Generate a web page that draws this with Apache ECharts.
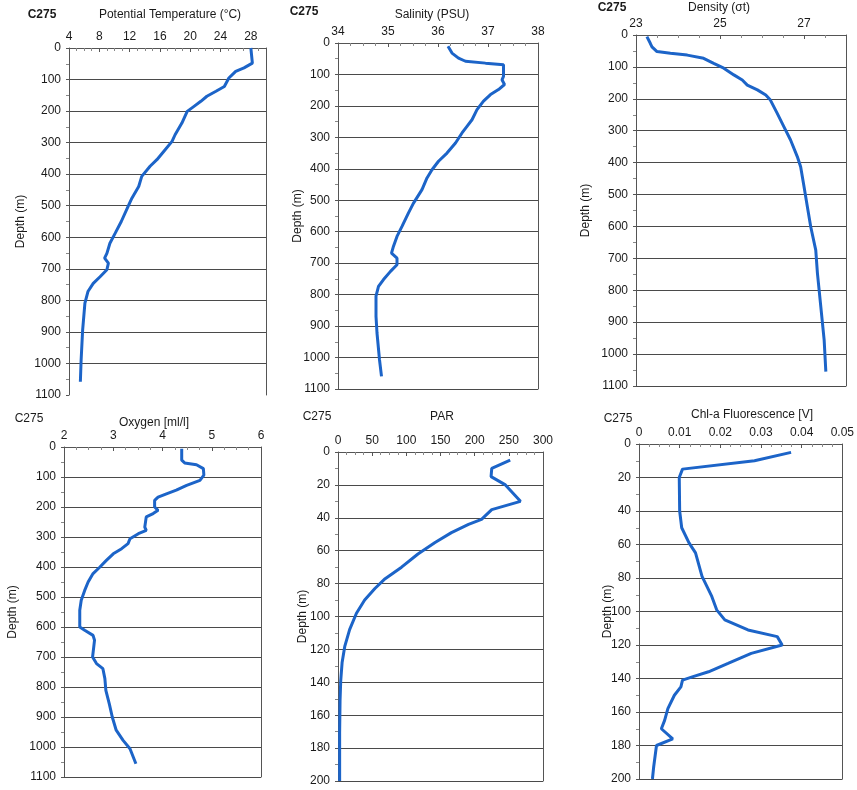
<!DOCTYPE html>
<html><head><meta charset="utf-8">
<script src="https://cdn.jsdelivr.net/npm/echarts@6/dist/echarts.min.js"></script>
<style>html,body{margin:0;padding:0;background:#fff}#c{width:857px;height:790px}</style>
</head><body><div id="c"></div>
<script>
// ---- data (x value, depth in m) ----
const tempDepth = [0,48,53,63,74,95,122,137,153,169,185,201,238,275,296,328,354,375,407,439,476,502,550,587,619,651,666,682,703,725,746,772,809,894,989,1058];
const tempVal   = [28.0,28.2,28.3,27.1,26.0,25.1,24.5,23.4,22.2,21.4,20.5,19.6,18.9,18.0,17.6,16.5,15.6,14.7,13.6,13.2,12.3,11.8,10.9,10.1,9.4,9.0,8.7,9.2,9.0,8.1,7.2,6.5,6.1,5.8,5.6,5.5];

const salDepth = [10,32,37,48,58,64,69,106,117,132,148,164,185,212,244,265,286,318,350,376,403,429,466,509,540,583,615,646,668,684,705,726,752,774,805,869,922,1007,1060];
const salVal   = [36.20,36.28,36.31,36.41,36.55,36.95,37.31,37.31,37.28,37.33,37.21,37.05,36.91,36.78,36.68,36.58,36.48,36.35,36.18,36.01,35.88,35.78,35.68,35.51,35.41,35.28,35.18,35.11,35.07,35.18,35.18,35.05,34.91,34.81,34.76,34.76,34.78,34.83,34.87];

const densDepth = [5,26,37,52,57,63,73,89,104,125,141,157,172,188,204,245,287,329,381,413,475,538,601,674,747,851,956,1055];
const densVal   = [23.26,23.34,23.38,23.50,23.82,24.22,24.61,24.85,25.09,25.33,25.53,25.65,25.89,26.09,26.20,26.36,26.52,26.68,26.84,26.92,27.00,27.08,27.16,27.28,27.32,27.40,27.48,27.52];

const oxyDepth = [6,44,53,59,72,94,111,128,144,156,167,178,200,211,222,233,267,278,289,306,322,339,356,378,400,422,450,478,511,544,600,611,628,644,672,700,722,739,772,811,856,900,944,978,1006,1056];
const oxyVal   = [4.39,4.39,4.45,4.69,4.83,4.84,4.76,4.49,4.28,4.08,3.91,3.84,3.84,3.91,3.81,3.67,3.64,3.67,3.51,3.34,3.30,3.17,3.00,2.86,2.73,2.59,2.49,2.42,2.35,2.32,2.32,2.42,2.59,2.62,2.60,2.58,2.66,2.79,2.83,2.85,2.92,2.98,3.06,3.20,3.34,3.46];

const parDepth = [5,10,15,20,30,35,39,41,44,49,55,62,70,77,83,90,98,108,118,128,139,151,171,200];
const parVal   = [252,225,224,245,267,225,215,210,191,166,142,117,93,69,54,39,27,17,10,6,4,3,2.4,2.4];

const chlDepth = [5,10,15,20,40,50,59,65,79,91,99,105,111,115,120,125,131,136,139,141,145,150,158,165,170,176,180,193,200];
const chlVal   = [0.0374,0.0284,0.0107,0.0099,0.0100,0.0105,0.0123,0.0139,0.0155,0.0179,0.0191,0.0211,0.0268,0.0340,0.0352,0.0276,0.0219,0.0171,0.0131,0.0107,0.0103,0.0087,0.0071,0.0063,0.0055,0.0083,0.0043,0.0036,0.0033];

const stationLabel = 'C275';
const axisTitles = ['Potential Temperature (°C)','Salinity (PSU)','Density (σt)','Oxygen [ml/l]','PAR','Chl-a Fluorescence [V]'];
const xRanges = [[4,30,4],[34,38,1],[23,28,2],[2,6,1],[0,300,50],[0,0.05,0.01]];
const xShowMax = [false,true,false,true,true,true];
const yRanges = [[0,1100,100],[0,1100,100],[0,1100,100],[0,1100,100],[0,200,20],[0,200,20]];
const depths = [tempDepth,salDepth,densDepth,oxyDepth,parDepth,chlDepth];
const vals = [tempVal,salVal,densVal,oxyVal,parVal,chlVal];

// ---- layout ----
const grids = [
  {left:69, top:48, width:197, height:347},
  {left:338, top:43, width:200, height:346},
  {left:636, top:35, width:210, height:351},
  {left:64, top:447, width:197, height:330},
  {left:338, top:452, width:205, height:329},
  {left:639, top:444, width:207, height:335}
];
const stationPos = [[42,15,true],[304,12,true],[612,8,true],[29,419,false],[317,417,false],[618,419,false]];
const titlePos = [[170,15],[432,15],[719,8],[154,423],[442,417],[752,415]];
const yTitleGap = [42,34,44,45,29,25];
const maxLine = [false,true,true,true,true,true];

const FONT = 'Liberation Sans, Arial, sans-serif';
const lineCol = '#1c64c8';
const axCol = '#555';

const xAxis = [], yAxis = [], series = [], graphic = [];
for (let i=0;i<6;i++){
  const [xmin,xmax,xint] = xRanges[i];
  const [ymin,ymax,yint] = yRanges[i];
  xAxis.push({
    type:'value', gridIndex:i, position:'top', min:xmin, max:xmax, interval:xint,
    axisLine:{show:true, lineStyle:{color:axCol}},
    axisTick:{show:true, inside:true, length:4, lineStyle:{color:axCol}},
    minorTick:{show:true, splitNumber:4, length:3, lineStyle:{color:'#888'}},
    splitLine:{show:false},
    axisLabel:{fontFamily:FONT, fontSize:12, color:'#1a1a1a', margin:5, showMaxLabel: xShowMax[i],
      formatter: v => String(+Number(v).toFixed(4))}
  });
  yAxis.push({
    type:'value', gridIndex:i, inverse:true, min:ymin, max:ymax, interval:yint,
    name:'Depth (m)', nameLocation:'middle', nameGap:yTitleGap[i], nameRotate:90, nameMoveOverlap:false,
    nameTextStyle:{fontFamily:FONT, fontSize:12, color:'#1a1a1a'},
    axisLine:{show:true, lineStyle:{color:axCol}},
    axisTick:{show:true, length:3, lineStyle:{color:axCol}},
    minorTick:{show:true, splitNumber:2, length:3, lineStyle:{color:'#888'}},
    splitLine:{show:true, showMinLine:false, showMaxLine:maxLine[i], lineStyle:{color:'#4a4a4a', width:1}},
    axisLabel:{fontFamily:FONT, fontSize:12, color:'#1a1a1a', margin:8, formatter: v => String(v)}
  });
  series.push({
    type:'line', xAxisIndex:i, yAxisIndex:i, showSymbol:false, symbol:'none',
    data: vals[i].map((v,k)=>[v, depths[i][k]]),
    lineStyle:{color:lineCol, width:3}, itemStyle:{color:lineCol}, silent:true
  });
  const sp = stationPos[i];
  graphic.push({type:'text', x:sp[0], y:sp[1], style:{text:stationLabel, fontFamily:FONT, fontSize:12, fontWeight: sp[2]?'bold':'normal', fill:'#1a1a1a', align:'center', verticalAlign:'middle'}});
  const tp = titlePos[i];
  graphic.push({type:'text', x:tp[0], y:tp[1], style:{text:axisTitles[i], fontFamily:FONT, fontSize:12, fill:'#1a1a1a', align:'center', verticalAlign:'middle'}});
}
// right-side frame lines
for (let i=0;i<6;i++){
  yAxis.push({type:'value', gridIndex:i, position:'right', inverse:true, min:yRanges[i][0], max:yRanges[i][1],
    axisLine:{show:true, lineStyle:{color:axCol}}, axisTick:{show:false}, axisLabel:{show:false}, splitLine:{show:false}});
}

const chart = echarts.init(document.getElementById('c'), null, {renderer:'canvas'});
chart.setOption({
  animation:false,
  backgroundColor:'#fff',
  grid: grids,
  xAxis, yAxis, series, graphic
});
</script>
</body></html>
